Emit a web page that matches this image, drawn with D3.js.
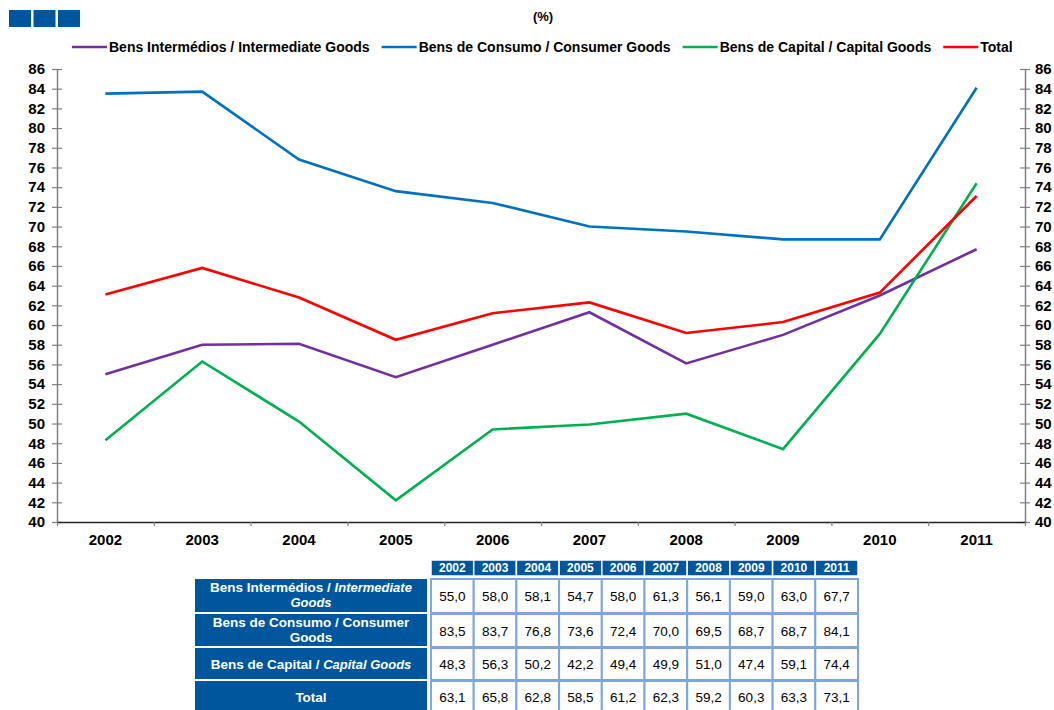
<!DOCTYPE html>
<html>
<head>
<meta charset="utf-8">
<script src="https://cdn.jsdelivr.net/npm/d3@7/dist/d3.min.js"></script>
<style>
  html, body { margin: 0; padding: 0; background: #fff; }
  svg { display: block; font-family: "Liberation Sans", Arial, sans-serif; }
</style>
</head>
<body>
<svg id="chart" width="1054" height="710"></svg>
<script>
const years = ["2002","2003","2004","2005","2006","2007","2008","2009","2010","2011"];
const intermediate = [55.0, 58.0, 58.1, 54.7, 58.0, 61.3, 56.1, 59.0, 63.0, 67.7];
const consumer     = [83.5, 83.7, 76.8, 73.6, 72.4, 70.0, 69.5, 68.7, 68.7, 84.1];
const capital      = [48.3, 56.3, 50.2, 42.2, 49.4, 49.9, 51.0, 47.4, 59.1, 74.4];
const total        = [63.1, 65.8, 62.8, 58.5, 61.2, 62.3, 59.2, 60.3, 63.3, 73.1];
const yTicks = [40,42,44,46,48,50,52,54,56,58,60,62,64,66,68,70,72,74,76,78,80,82,84,86];

const seriesNames = ["Bens Intermédios / Intermediate Goods", "Bens de Consumo / Consumer Goods", "Bens de Capital / Capital Goods", "Total"];
const seriesColors = ["#7030A0", "#0070C0", "#00B050", "#FF0000"];
const seriesValues = [intermediate, consumer, capital, total];

(function () {
const svg = d3.select("#chart");
const blue = "#00569D";

// top-left squares
[9, 33.5, 58].forEach(x => svg.append("rect").attr("x", x).attr("y", 10).attr("width", 22).attr("height", 17).attr("fill", blue));

svg.append("text").attr("x", 543).attr("y", 21).attr("text-anchor", "middle")
  .attr("font-size", 13).attr("font-weight", "bold").attr("fill", "#000").text("(%)");

const pLeft = 57, pRight = 1025, pTop = 69, pBottom = 522;
const x = d3.scaleBand().domain(years).range([pLeft, pRight]).padding(0);
const y = d3.scaleLinear().domain([40, 86]).range([pBottom, pTop]);

// lines
const line = d3.line().x((d, i) => x(years[i]) + x.bandwidth() / 2).y(d => y(d));
seriesValues.forEach((vals, k) => {
  svg.append("path").datum(vals).attr("d", line).attr("fill", "none")
    .attr("stroke", seriesColors[k]).attr("stroke-width", 2.6).attr("stroke-linejoin", "miter");
});

// y axes
function styleY(g, isLeft) {
  g.select(".domain").attr("stroke", "#808080").attr("stroke-width", 1.5);
  g.selectAll(".tick line").attr("stroke", "#808080").attr("stroke-width", 1.2).attr("x1", -5).attr("x2", 5);
  g.selectAll(".tick text").attr("font-size", 15).attr("font-weight", "bold").attr("fill", "#000")
    .attr("font-family", "Liberation Sans, Arial, sans-serif");
  if (isLeft) g.selectAll(".tick text").attr("x", -12); else g.selectAll(".tick text").attr("x", 10);
}
svg.append("g").attr("transform", `translate(${pLeft},0)`)
  .call(d3.axisLeft(y).tickValues(yTicks).tickSize(5).tickSizeOuter(0))
  .call(g => styleY(g, true));
svg.append("g").attr("transform", `translate(${pRight},0)`)
  .call(d3.axisRight(y).tickValues(yTicks).tickSize(5).tickSizeOuter(0))
  .call(g => styleY(g, false));

// x axis: boundary ticks
const xb = d3.scaleLinear().domain([0, years.length]).range([pLeft, pRight]);
svg.append("g").attr("transform", `translate(0,${pBottom})`)
  .call(d3.axisBottom(xb).ticks(years.length).tickSize(4).tickSizeOuter(0).tickFormat(""))
  .call(g => {
    g.select(".domain").attr("stroke", "#222").attr("stroke-width", 1.5);
    g.selectAll(".tick line").attr("stroke", "#808080").attr("stroke-width", 1.2);
  });
// x labels
svg.append("g").attr("transform", `translate(0,${pBottom})`)
  .call(d3.axisBottom(x).tickSize(0).tickPadding(12))
  .call(g => {
    g.select(".domain").remove();
    g.selectAll(".tick text").attr("font-size", 15).attr("font-weight", "bold").attr("fill", "#000")
      .attr("font-family", "Liberation Sans, Arial, sans-serif");
  });

// legend
const lg = svg.append("g");
let lx = 72;
seriesNames.forEach((name, k) => {
  lg.append("line").attr("x1", lx).attr("x2", lx + 35).attr("y1", 47).attr("y2", 47)
    .attr("stroke", seriesColors[k]).attr("stroke-width", 2.6);
  const t = lg.append("text").attr("x", lx + 37).attr("y", 52).attr("font-size", 14)
    .attr("font-weight", "bold").attr("fill", "#000").text(name);
  lx += 37 + t.node().getComputedTextLength() + 12;
});

// table
const tLeft = 431, colW = 42.7, labLeft = 195, labRight = 427;
const headTop = 560, headH = 16;
const rowTops = [579, 614, 648, 681];
const rowH = [34, 33, 32, 32];
const cols = d3.scaleBand().domain(years).range([tLeft, tLeft + colW * years.length]);
const tg = svg.append("g");
years.forEach(yr => {
  tg.append("rect").attr("x", cols(yr)).attr("y", headTop).attr("width", cols.bandwidth()).attr("height", headH)
    .attr("fill", blue).attr("stroke", "#fff").attr("stroke-width", 1.5);
  tg.append("text").attr("x", cols(yr) + cols.bandwidth() / 2).attr("y", headTop + 12).attr("text-anchor", "middle")
    .attr("font-size", 12).attr("font-weight", "bold").attr("fill", "#fff").text(yr);
});
const labels = [
  [[{t:"Bens Intermédios / ", i:false}, {t:"Intermediate", i:true}], [{t:"Goods", i:true}]],
  [[{t:"Bens de Consumo / Consumer", i:false}], [{t:"Goods", i:false}]],
  [[{t:"Bens de Capital / ", i:false}, {t:"Capital Goods", i:true}]],
  [[{t:"Total", i:false}]]
];
const fmt = v => d3.format(".1f")(v).replace(".", ",");
seriesValues.forEach((vals, r) => {
  const ty = rowTops[r], h = rowH[r];
  tg.append("rect").attr("x", labLeft).attr("y", ty).attr("width", labRight - labLeft).attr("height", h - 1)
    .attr("fill", blue);
  const lines = labels[r];
  const cx = (labLeft + labRight) / 2;
  lines.forEach((parts, li) => {
    const baseY = lines.length === 1 ? ty + h / 2 + 5 : ty + 13 + li * 15;
    const txt = tg.append("text").attr("x", cx).attr("y", baseY).attr("text-anchor", "middle")
      .attr("font-size", 13.5).attr("font-weight", "bold").attr("fill", "#fff");
    parts.forEach(p => txt.append("tspan").attr("font-style", p.i ? "italic" : "normal")
      .attr("font-size", p.i ? 13 : 13.5).text(p.t));
  });
  vals.forEach((v, c) => {
    tg.append("rect").attr("x", cols(years[c])).attr("y", ty).attr("width", cols.bandwidth()).attr("height", h)
      .attr("fill", "#fff").attr("stroke", "#7FA6DB").attr("stroke-width", 2);
    tg.append("text").attr("x", cols(years[c]) + cols.bandwidth() / 2).attr("y", ty + h / 2 + 5)
      .attr("text-anchor", "middle").attr("font-size", 13.5).attr("fill", "#000").text(fmt(v));
  });
});
})();
</script>
</body>
</html>
